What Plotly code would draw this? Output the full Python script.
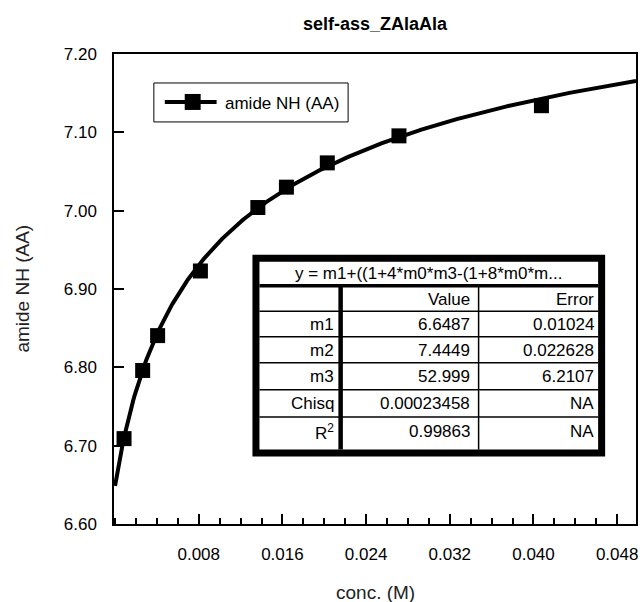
import numpy as np
import plotly.graph_objects as go

# Measured amide NH chemical shift versus concentration
conc = [0.00086, 0.00264, 0.00407, 0.00816, 0.01365, 0.01638, 0.02029, 0.02714, 0.04076]
shift = [6.709, 6.796, 6.8405, 6.923, 7.004, 7.030, 7.061, 7.0955, 7.134]

# Dimerisation fit parameters (m1 = monomer shift, m2 = dimer shift, m3 = K)
m1_fit, m2_fit, m3_fit = 6.6487, 7.4449, 52.999

x_ticks = [0.008, 0.016, 0.024, 0.032, 0.040, 0.048]
x_tick_text = ["0.008", "0.016", "0.024", "0.032", "0.040", "0.048"]

table_header = "y = m1+((1+4*m0*m3-(1+8*m0*m..."
table_cols = ["", "Value", "Error"]
table_rows = [
    ["m1", "6.6487", "0.01024"],
    ["m2", "7.4449", "0.022628"],
    ["m3", "52.999", "6.2107"],
    ["Chisq", "0.00023458", "NA"],
    ["R<sup>2</sup>", "0.99863", "NA"],
]

X_RANGE = [-0.0001, 0.0498]
Y_RANGE = [6.60, 7.20]

W, H = 644, 602
L, R, T, B = 114, 638, 54, 524.5
FONT = "Liberation Sans, Arial, sans-serif"


def px(x):
    return (x - L) / (R - L)


def py(y):
    return (B - y) / (B - T)


# fitted curve from the tabulated parameters
c = np.linspace(0.0, X_RANGE[1], 400)
kc = np.maximum(c, 1e-12) * m3_fit
frac = (1 + 4 * kc - np.sqrt(1 + 8 * kc)) / (4 * kc)
fit_y = m1_fit + frac * (m2_fit - m1_fit)

fig = go.Figure()
fig.add_trace(go.Scatter(x=c, y=fit_y, mode="lines",
                         line=dict(color="black", width=4),
                         showlegend=False, hoverinfo="skip"))
fig.add_trace(go.Scatter(x=conc, y=shift, mode="markers",
                         marker=dict(symbol="square", size=15, color="black"),
                         showlegend=False))

shapes = []
annotations = []

# legend box
shapes.append(dict(type="rect", xref="paper", yref="paper",
                   x0=px(154), x1=px(349), y0=py(83), y1=py(122),
                   line=dict(color="black", width=1), fillcolor="white", layer="above"))
shapes.append(dict(type="line", xref="paper", yref="paper",
                   x0=px(165), x1=px(217), y0=py(102), y1=py(102),
                   line=dict(color="black", width=4), layer="above"))
shapes.append(dict(type="rect", xref="paper", yref="paper",
                   x0=px(185), x1=px(201), y0=py(94), y1=py(110),
                   line=dict(color="black", width=0), fillcolor="black", layer="above"))
annotations.append(dict(text="amide NH (AA)", xref="paper", yref="paper",
                        x=px(223), y=py(104), xanchor="left", yanchor="middle",
                        showarrow=False, font=dict(size=17, color="black", family=FONT)))

# parameter table
tx0, tx1, ty0, ty1 = 256.5, 603.5, 258.5, 453.5
shapes.append(dict(type="rect", xref="paper", yref="paper",
                   x0=px(tx0), x1=px(tx1), y0=py(ty0), y1=py(ty1),
                   line=dict(color="black", width=7), fillcolor="white", layer="above"))
header_bottom = 286
shapes.append(dict(type="line", xref="paper", yref="paper",
                   x0=px(260), x1=px(600), y0=py(header_bottom), y1=py(header_bottom),
                   line=dict(color="black", width=3.5), layer="above"))
row_lines = [311.5, 337, 363, 390, 417.5]
for yl in row_lines:
    shapes.append(dict(type="line", xref="paper", yref="paper",
                       x0=px(260), x1=px(600), y0=py(yl), y1=py(yl),
                       line=dict(color="black", width=1.5), layer="above"))
shapes.append(dict(type="line", xref="paper", yref="paper",
                   x0=px(341.5), x1=px(341.5), y0=py(header_bottom), y1=py(450),
                   line=dict(color="black", width=4.5), layer="above"))
shapes.append(dict(type="line", xref="paper", yref="paper",
                   x0=px(480), x1=px(480), y0=py(header_bottom), y1=py(450),
                   line=dict(color="black", width=1.5), layer="above"))

annotations.append(dict(text=table_header, xref="paper", yref="paper",
                        x=px(430), y=py(274), xanchor="center", yanchor="middle",
                        showarrow=False, font=dict(size=17, color="black", family=FONT)))
col_right = [337, 473, 598]
row_centers = [299.5, 324.5, 350.5, 377, 404, 432]
all_rows = [table_cols] + table_rows
for r, row in enumerate(all_rows):
    for k, cell in enumerate(row):
        if not cell:
            continue
        annotations.append(dict(text=cell, xref="paper", yref="paper",
                                x=px(col_right[k]), y=py(row_centers[r]),
                                xanchor="right", yanchor="middle", showarrow=False,
                                font=dict(size=17, color="black", family=FONT)))

# axis titles
annotations.append(dict(text="conc. (M)", xref="paper", yref="paper",
                        x=px(377), y=py(593), xanchor="center", yanchor="middle",
                        showarrow=False, font=dict(size=19, color="#222", family=FONT)))
annotations.append(dict(text="amide NH (AA)", xref="paper", yref="paper",
                        x=px(22.5), y=py(289), xanchor="center", yanchor="middle",
                        textangle=-90, showarrow=False,
                        font=dict(size=19, color="#222", family=FONT)))

fig.update_layout(
    width=W, height=H,
    margin=dict(l=L, r=W - R, t=T, b=H - B, pad=0),
    paper_bgcolor="white", plot_bgcolor="white",
    font=dict(family=FONT, size=17, color="black"),
    title=dict(text="<b>self-ass_ZAlaAla</b>", x=px(376), xref="paper",
               y=1 - 24 / H, yref="container", xanchor="center", yanchor="middle",
               font=dict(size=18, color="black", family=FONT)),
    shapes=shapes, annotations=annotations,
    showlegend=False,
)
fig.update_xaxes(range=X_RANGE, tickmode="array", tickvals=x_ticks, ticktext=x_tick_text,
                 ticks="inside", ticklen=10, tickwidth=1.5, tickcolor="black",
                 minor=dict(tickmode="linear", tick0=0, dtick=0.002, ticks="inside",
                            ticklen=6, tickwidth=1.5, tickcolor="black"),
                 showline=True, linecolor="black", linewidth=1.5, mirror=True,
                 showgrid=False, zeroline=False, ticklabelstandoff=14,
                 tickfont=dict(size=17, color="black", family=FONT))
fig.update_yaxes(range=Y_RANGE, tickmode="linear", tick0=6.6, dtick=0.1, tickformat=".2f",
                 ticks="inside", ticklen=10, tickwidth=1.5, tickcolor="black",
                 showline=True, linecolor="black", linewidth=1.5, mirror=True,
                 showgrid=False, zeroline=False, ticklabelstandoff=12,
                 tickfont=dict(size=17, color="black", family=FONT))

fig.write_html("out.html")
